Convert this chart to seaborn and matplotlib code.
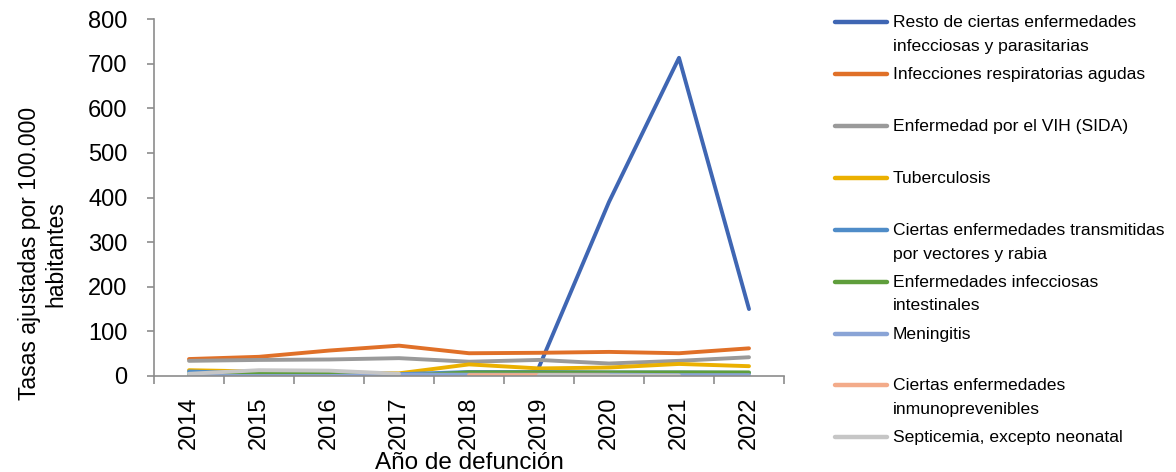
import numpy as np
import pandas as pd
import matplotlib
matplotlib.use("Agg")
import matplotlib.pyplot as plt
import seaborn as sns

# Years on the category axis
years = ["2014", "2015", "2016", "2017", "2018", "2019", "2020", "2021", "2022"]

# Series names (legend text, with manual line breaks)
series_names = [
    "Resto de ciertas enfermedades\ninfecciosas y parasitarias",
    "Infecciones respiratorias agudas",
    "Enfermedad por el VIH (SIDA)",
    "Tuberculosis",
    "Ciertas enfermedades transmitidas\npor vectores y rabia",
    "Enfermedades infecciosas\nintestinales",
    "Meningitis",
    "Ciertas enfermedades\ninmunoprevenibles",
    "Septicemia, excepto neonatal",
]

nan = np.nan
# Adjusted rates per 100.000 inhabitants
resto_infecciosas = [nan, nan, nan, nan, nan, 20, 390, 713, 150]
respiratorias = [38, 43, 57, 68, 51, 52, 54, 51, 62]
vih_sida = [34, 36, 37, 40, 32, 36, 28, 34, 42]
tuberculosis = [13, 10, 8, 6, 26, 17, 19, 27, 22]
vectores_rabia = [10, 6, 5, 4, 9, 9, 8, 8, 7]
intestinales = [4, 6, 5, 0, 8, 8, 8, 8, 8]
meningitis = [0, 0, 0, 3, 3, 3, 3, 2, 2]
inmunoprevenibles = [nan, nan, nan, nan, 2, 2, 1, nan, nan]
septicemia = [5, 13, 12, 5, nan, 2, 1, 1, nan]

all_series = [resto_infecciosas, respiratorias, vih_sida, tuberculosis,
              vectores_rabia, intestinales, meningitis, inmunoprevenibles,
              septicemia]

colors = ["#3F66B3", "#E07028", "#9A9A9A", "#EBB000", "#4F8CC8",
          "#5F9E3C", "#8AA4D6", "#F3AB8A", "#C6C6C6"]

# Long table; each unbroken run of values becomes its own unit so gaps stay open
rows = []
for name, values in zip(series_names, all_series):
    seg = 0
    for i, v in enumerate(values):
        if np.isnan(v):
            seg += 1
            continue
        rows.append({"pos": i, "tasa": v, "causa": name, "tramo": f"{name}|{seg}"})
df = pd.DataFrame(rows)

sns.set_style("white")
plt.rcParams["font.family"] = ["Liberation Sans", "DejaVu Sans"]
plt.rcParams["text.color"] = "black"
plt.rcParams["axes.labelcolor"] = "black"
plt.rcParams["xtick.labelcolor"] = "black"
plt.rcParams["ytick.labelcolor"] = "black"

fig = plt.figure(figsize=(11.76, 4.72), dpi=100)
ax = fig.add_axes([154 / 1176, 1 - 376 / 472, 630 / 1176, 357 / 472])

sns.lineplot(data=df, x="pos", y="tasa", hue="causa", hue_order=series_names,
             palette=colors, units="tramo", estimator=None, sort=False,
             linewidth=2.8, ax=ax, legend=True)

axis_grey = "#8C8C8C"
for side in ["top", "right"]:
    ax.spines[side].set_visible(False)
for side in ["left", "bottom"]:
    ax.spines[side].set_color(axis_grey)
    ax.spines[side].set_linewidth(1.2)

ax.set_xlim(-0.5, 8.5)
ax.set_ylim(0, 800)
ax.set_yticks(np.arange(0, 801, 100))
ax.tick_params(axis="y", which="major", direction="out", length=5, width=1.2,
               color=axis_grey, pad=14, labelsize=17, left=True)

# Tick marks between categories, labels centred on each category
ax.set_xticks(np.arange(-0.5, 9, 1))
ax.set_xticklabels([])
ax.set_xticks(np.arange(len(years)), minor=True)
ax.set_xticklabels(years, minor=True, rotation=90)
ax.tick_params(axis="x", which="major", direction="out", length=6, width=1.2,
               color=axis_grey, bottom=True)
ax.tick_params(axis="x", which="minor", length=0, pad=15, labelsize=17, bottom=True)

ax.set_xlabel("Año de defunción", fontsize=17.5)
ax.xaxis.set_label_coords(0.5, -0.213)
ax.set_ylabel("Tasas ajustadas por 100.000\nhabitantes", fontsize=16.5)
ax.yaxis.set_label_coords(-0.137, 0.342)

# Legend: every entry two lines tall, handle level with the first line
handles, labels = ax.get_legend_handles_labels()
ax.legend_.remove()
labels2 = [lab if "\n" in lab else lab + "\n " for lab in labels]
fs = 12.6
line_gap_pt = 8.8  # half the distance between the two text lines, in points
leg = fig.legend(handles, labels2, loc="upper left",
                 bbox_to_anchor=(835 / 1176, 1 - 15.2 / 472), frameon=False,
                 fontsize=fs, handlelength=2.95, handletextpad=0.35,
                 labelspacing=0.75, borderpad=0, borderaxespad=0)
for t in leg.get_texts():
    t.set_linespacing(1.73)
for h in leg.legend_handles:
    h.set_linewidth(3.2)
    y = np.asarray(h.get_ydata(), dtype=float)
    h.set_ydata(y + line_gap_pt)

fig.savefig("out.png", dpi=100)
